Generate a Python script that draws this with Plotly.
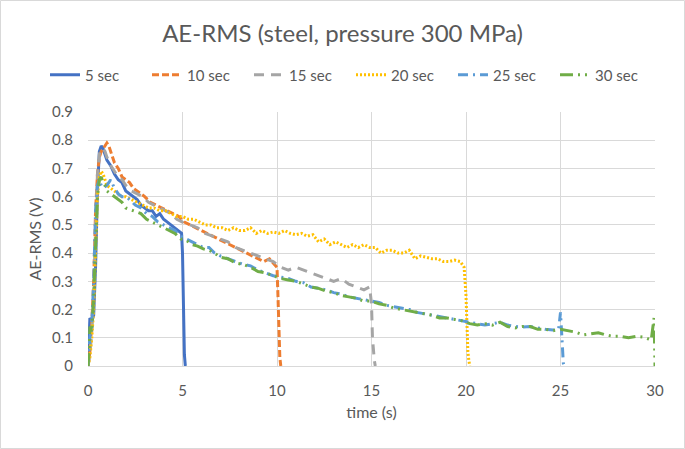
import plotly.graph_objects as go

# ---------------- data ----------------
t5 = [0, 0.05, 0.1, 0.2, 0.3, 0.4, 0.5, 0.6, 0.7, 0.8, 0.9, 1.0, 1.2, 1.4, 1.6, 1.8, 2.0, 2.2, 2.4, 2.6,
      2.8, 3.0, 3.2, 3.4, 3.6, 3.8, 4.0, 4.2, 4.4, 4.6, 4.8, 4.95, 5.0, 5.05, 5.1, 5.15]
v5 = [0, 0.12, 0.17, 0.16, 0.18, 0.35, 0.62, 0.76, 0.78, 0.77, 0.75, 0.73, 0.71, 0.68, 0.66, 0.65, 0.62, 0.61, 0.60, 0.59,
      0.57, 0.56, 0.55, 0.55, 0.53, 0.54, 0.52, 0.51, 0.50, 0.49, 0.48, 0.47, 0.40, 0.15, 0.04, 0.0]

t10 = [0, 0.1, 0.2, 0.3, 0.4, 0.5, 0.6, 0.7, 0.8, 0.9, 1.0, 1.1, 1.2, 1.4, 1.6, 1.8, 2.0, 2.2, 2.4, 2.6,
       2.8, 3.0, 3.3, 3.6, 3.9, 4.2, 4.5, 4.8, 5.1, 5.4, 5.7, 6.0, 6.3, 6.6, 6.9, 7.2, 7.5, 7.8, 8.1, 8.4,
       8.7, 9.0, 9.3, 9.6, 9.9, 10.0, 10.05, 10.1, 10.15, 10.2]
v10 = [0, 0.05, 0.15, 0.30, 0.55, 0.68, 0.74, 0.76, 0.77, 0.78, 0.79, 0.78, 0.76, 0.72, 0.70, 0.67, 0.66, 0.65, 0.63, 0.62,
       0.61, 0.60, 0.58, 0.57, 0.56, 0.55, 0.54, 0.53, 0.51, 0.50, 0.49, 0.48, 0.47, 0.46, 0.45, 0.44, 0.43, 0.42, 0.41, 0.40,
       0.39, 0.38, 0.37, 0.38, 0.36, 0.35, 0.25, 0.10, 0.03, 0.0]

t15 = [0, 0.1, 0.2, 0.3, 0.4, 0.5, 0.6, 0.7, 0.8, 0.9, 1.0, 1.2, 1.4, 1.6, 1.8, 2.0, 2.3, 2.6, 2.9, 3.2,
       3.5, 3.8, 4.1, 4.4, 4.7, 5.0, 5.4, 5.8, 6.2, 6.6, 7.0, 7.4, 7.8, 8.2, 8.6, 9.0, 9.4, 9.8, 10.2, 10.6,
       11.0, 11.4, 11.8, 12.2, 12.6, 13.0, 13.4, 13.8, 14.2, 14.6, 14.9, 15.0, 15.05, 15.1, 15.15, 15.2]
v15 = [0, 0.04, 0.12, 0.25, 0.50, 0.68, 0.75, 0.77, 0.77, 0.76, 0.74, 0.71, 0.69, 0.67, 0.66, 0.64, 0.62, 0.61, 0.60, 0.58,
       0.57, 0.56, 0.55, 0.54, 0.52, 0.51, 0.50, 0.49, 0.47, 0.46, 0.45, 0.44, 0.42, 0.41, 0.40, 0.39, 0.38, 0.37, 0.35, 0.34,
       0.35, 0.34, 0.33, 0.32, 0.31, 0.30, 0.31, 0.29, 0.28, 0.27, 0.28, 0.22, 0.10, 0.04, 0.02, 0.0]

t20 = [0, 0.1, 0.2, 0.3, 0.4, 0.5, 0.6, 0.7, 0.8, 0.9, 1.0, 1.2, 1.4, 1.6, 1.8, 2.0, 2.3, 2.6, 2.9, 3.2,
       3.5, 3.8, 4.1, 4.4, 4.7, 5.0, 5.3, 5.6, 5.9, 6.2, 6.5, 6.8, 7.1, 7.4, 7.7, 8.0, 8.3, 8.6, 8.9, 9.2,
       9.5, 9.8, 10.1, 10.4, 10.7, 11.0, 11.3, 11.6, 11.9, 12.2, 12.5, 12.8, 13.1, 13.4, 13.7, 14.0, 14.3, 14.6, 14.9, 15.2,
       15.5, 15.8, 16.1, 16.4, 16.7, 17.0, 17.3, 17.6, 17.9, 18.2, 18.5, 18.8, 19.1, 19.4, 19.7, 19.9, 20.0, 20.05, 20.1, 20.15,
       20.2]
v20 = [0, 0.03, 0.10, 0.20, 0.40, 0.60, 0.67, 0.69, 0.68, 0.66, 0.64, 0.63, 0.62, 0.61, 0.60, 0.60, 0.59, 0.58, 0.57, 0.56,
       0.56, 0.55, 0.55, 0.54, 0.53, 0.53, 0.52, 0.52, 0.51, 0.50, 0.50, 0.49, 0.49, 0.48, 0.49, 0.48, 0.48, 0.49, 0.47, 0.48,
       0.47, 0.475, 0.47, 0.48, 0.47, 0.465, 0.47, 0.46, 0.465, 0.44, 0.45, 0.43, 0.44, 0.43, 0.42, 0.43, 0.42, 0.43, 0.42, 0.42,
       0.40, 0.41, 0.41, 0.40, 0.40, 0.41, 0.38, 0.39, 0.385, 0.38, 0.38, 0.37, 0.37, 0.375, 0.37, 0.35, 0.25, 0.12, 0.05, 0.02,
       0.0]

t25 = [0, 0.1, 0.2, 0.3, 0.4, 0.5, 0.6, 0.7, 0.8, 1.0, 1.2, 1.4, 1.6, 1.8, 2.0, 2.2, 2.5, 2.8, 3.1, 3.4,
       3.7, 4.0, 4.3, 4.6, 4.9, 5.2, 5.5, 5.8, 6.1, 6.4, 6.7, 7.0, 7.4, 7.8, 8.2, 8.6, 9.0, 9.4, 9.8, 10.2,
       10.6, 11.0, 11.4, 11.8, 12.2, 12.6, 13.0, 13.4, 13.8, 14.2, 14.6, 15.0, 15.4, 15.8, 16.2, 16.6, 17.0, 17.4, 17.8, 18.2,
       18.6, 19.0, 19.4, 19.8, 20.2, 20.6, 21.0, 21.4, 21.8, 22.2, 22.6, 23.0, 23.4, 23.8, 24.2, 24.6, 24.9, 25.0, 25.05, 25.1,
       25.15, 25.2]
v25 = [0, 0.10, 0.15, 0.30, 0.55, 0.64, 0.66, 0.64, 0.63, 0.64, 0.66, 0.63, 0.61, 0.60, 0.60, 0.59, 0.57, 0.56, 0.54, 0.53,
       0.51, 0.50, 0.49, 0.48, 0.46, 0.45, 0.44, 0.43, 0.42, 0.42, 0.40, 0.39, 0.38, 0.37, 0.36, 0.355, 0.34, 0.33, 0.32, 0.315,
       0.31, 0.30, 0.295, 0.28, 0.275, 0.27, 0.26, 0.255, 0.245, 0.24, 0.235, 0.228, 0.225, 0.215, 0.21, 0.205, 0.20, 0.19, 0.185, 0.18,
       0.175, 0.17, 0.165, 0.16, 0.155, 0.15, 0.145, 0.15, 0.155, 0.145, 0.14, 0.138, 0.14, 0.135, 0.13, 0.128, 0.13, 0.19, 0.12, 0.05,
       0.01, 0.0]

t30 = [0, 0.05, 0.1, 0.2, 0.3, 0.4, 0.5, 0.6, 0.7, 0.8, 0.9, 1.0, 1.2, 1.4, 1.6, 1.8, 2.0, 2.2, 2.5, 2.8,
       3.1, 3.4, 3.7, 4.0, 4.3, 4.6, 4.9, 5.2, 5.5, 5.8, 6.1, 6.4, 6.7, 7.0, 7.4, 7.8, 8.2, 8.6, 9.0, 9.4,
       9.8, 10.2, 10.6, 11.0, 11.4, 11.8, 12.2, 12.6, 13.0, 13.4, 13.8, 14.2, 14.6, 15.0, 15.4, 15.8, 16.2, 16.6, 17.0, 17.4,
       17.8, 18.2, 18.6, 19.0, 19.4, 19.8, 20.2, 20.6, 21.0, 21.4, 21.8, 22.2, 22.6, 23.0, 23.4, 23.8, 24.2, 24.6, 25.0, 25.4,
       25.8, 26.2, 26.6, 27.0, 27.4, 27.8, 28.2, 28.6, 29.0, 29.4, 29.8, 29.95, 30.0]
v30 = [0, 0.05, 0.14, 0.12, 0.25, 0.45, 0.60, 0.66, 0.67, 0.65, 0.64, 0.62, 0.61, 0.60, 0.59, 0.58, 0.56, 0.555, 0.55, 0.54,
       0.52, 0.51, 0.50, 0.49, 0.48, 0.47, 0.45, 0.445, 0.43, 0.425, 0.415, 0.41, 0.40, 0.385, 0.38, 0.365, 0.36, 0.35, 0.335, 0.33,
       0.32, 0.31, 0.305, 0.30, 0.29, 0.28, 0.275, 0.265, 0.26, 0.25, 0.245, 0.24, 0.23, 0.23, 0.22, 0.215, 0.205, 0.20, 0.195, 0.19,
       0.185, 0.18, 0.17, 0.17, 0.165, 0.16, 0.15, 0.145, 0.15, 0.145, 0.155, 0.14, 0.135, 0.14, 0.14, 0.13, 0.13, 0.125, 0.13, 0.125,
       0.12, 0.11, 0.115, 0.118, 0.11, 0.105, 0.105, 0.10, 0.105, 0.102, 0.092, 0.17, 0.0]

x_ticks = [0, 5, 10, 15, 20, 25, 30]
y_ticks = [0, 0.1, 0.2, 0.3, 0.4, 0.5, 0.6, 0.7, 0.8, 0.9]
y_tick_labels = ["0", "0.1", "0.2", "0.3", "0.4", "0.5", "0.6", "0.7", "0.8", "0.9"]

series = [
    ("5 sec", t5, v5, "#4472C4", "solid"),
    ("10 sec", t10, v10, "#ED7D31", "7px,3px"),
    ("15 sec", t15, v15, "#A5A5A5", "10px,7px"),
    ("20 sec", t20, v20, "#FFC000", "2px,2px"),
    ("25 sec", t25, v25, "#5B9BD5", "10px,5px,2px,5px"),
    ("30 sec", t30, v30, "#70AD47", "13px,5px,2px,5px,2px,5px"),
]

FONT = "Lato"
GREY = "#595959"

fig = go.Figure()
for name, t, v, col, dash in series:
    assert len(t) == len(v), name
    fig.add_trace(go.Scatter(x=t, y=v, mode="lines", name=name,
                             line=dict(color=col, width=3, dash=dash)))

W, H = 685, 449
ML, MR, MT, MB = 88, 30, 112, 83
pw, ph = W - ML - MR, H - MT - MB

fig.update_layout(
    width=W, height=H,
    margin=dict(l=ML, r=MR, t=MT, b=MB, autoexpand=False),
    paper_bgcolor="white", plot_bgcolor="white",
    font=dict(family=FONT, color=GREY, size=15),
    title=dict(text="AE-RMS (steel, pressure 300 MPa)", x=0.5, xanchor="center", xref="container",
               y=1 - 34 / H, yanchor="middle", yref="container",
               font=dict(size=24, color=GREY, family=FONT)),
    legend=dict(orientation="h", x=(45 - ML) / pw, xanchor="left", xref="paper",
                y=1 + (MT - 75) / ph, yanchor="middle", yref="paper",
                font=dict(size=15, color=GREY), bgcolor="rgba(0,0,0,0)",
                itemwidth=30, entrywidth=57, tracegroupgap=0),
    showlegend=True,
    xaxis=dict(range=[0, 30], tickvals=x_ticks, showgrid=True, gridcolor="#D9D9D9", gridwidth=1,
               zeroline=False, showline=True, linecolor="#D9D9D9", linewidth=1,
               ticks="", ticklabelstandoff=11, tickfont=dict(size=15, color=GREY),
               title=dict(text="time (s)", font=dict(size=16, color=GREY), standoff=8)),
    yaxis=dict(range=[0, 0.9], tickvals=y_ticks, ticktext=y_tick_labels, showgrid=True,
               gridcolor="#D9D9D9", gridwidth=1, zeroline=False, showline=False,
               ticks="", ticklabelstandoff=14, tickfont=dict(size=15, color=GREY),
               title=dict(text="AE-RMS (V)", font=dict(size=16, color=GREY), standoff=6)),
    shapes=[dict(type="rect", xref="paper", yref="paper",
                 x0=(-ML + 0.5) / pw, x1=1 + (MR - 0.5) / pw,
                 y0=(-MB + 0.5) / ph, y1=1 + (MT - 0.5) / ph,
                 line=dict(color="#D9D9D9", width=1), fillcolor="rgba(0,0,0,0)", layer="below")],
)

fig.write_html("out.html", config={"displayModeBar": False},
               post_script="document.body.style.margin='0';document.body.style.padding='0';")
